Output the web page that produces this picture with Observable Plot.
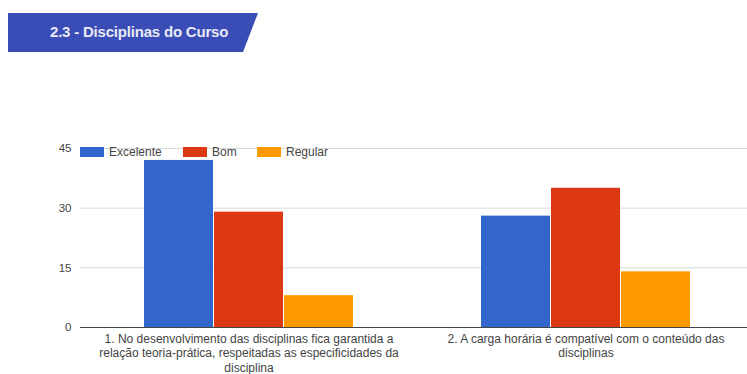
<!DOCTYPE html>
<html>
<head>
<meta charset="utf-8">
<script src="https://cdn.jsdelivr.net/npm/d3@7"></script>
<script src="https://cdn.jsdelivr.net/npm/@observablehq/plot@0.6"></script>
<style>
  html, body { margin: 0; padding: 0; background: #fff; overflow: hidden; width: 747px; height: 374px; }
  #wrap { position: relative; width: 747px; height: 374px; overflow: hidden; }
  #banner { position: absolute; left: 8px; top: 13px; width: 250px; height: 39px; background: #3a4cb5;
    clip-path: polygon(0 0, 100% 0, 94% 100%, 0 100%); }
  #banner span { position: absolute; left: 42px; top: 10px; font: bold 15px "Liberation Sans", Arial, sans-serif; color: #e8eaf6; letter-spacing: -0.2px; }
  #chart { position: absolute; left: 0; top: 120px; width: 760px; }
  #chart svg { max-width: none !important; }
  #legend { position: absolute; left: 80px; top: 147px; font: 12px "Liberation Sans", Arial, sans-serif; color: #444; }
  #legend .item { position: absolute; top: 0; white-space: nowrap; }
  #legend .sw { position: absolute; top: 0; width: 24px; height: 10px; }
  #legend .lb { position: absolute; left: 29px; top: -2px; }
</style>
</head>
<body>
<div id="wrap">
  <div id="banner"><span>2.3 - Disciplinas do Curso</span></div>
  <div id="chart"></div>
  <div id="legend"></div>
</div>
<script>
const questions = [
  "1. No desenvolvimento das disciplinas fica garantida a\nrelação teoria-prática, respeitadas as especificidades da\ndisciplina",
  "2. A carga horária é compatível com o conteúdo das\ndisciplinas"
];
const series = ["Excelente", "Bom", "Regular"];
const colors = ["#3366cc", "#dc3912", "#ff9900"];
const excelente = [42, 28];
const bom = [29, 35];
const regular = [8, 14];
const yTicks = [0, 15, 30, 45];

const values = [excelente, bom, regular];
const data = [];
questions.forEach((q, qi) => {
  series.forEach((s, si) => data.push({question: q, series: s, value: values[si][qi]}));
});

const chart = Plot.plot({
  width: 754,
  height: 254,
  marginTop: 28,
  marginBottom: 47,
  marginLeft: 80,
  marginRight: 0,
  style: {fontFamily: "'Liberation Sans', Arial, sans-serif", fontSize: "12px", color: "#444", background: "transparent", overflow: "visible", maxWidth: "none"},
  fx: {domain: questions, padding: 0, round: false, label: null},
  x: {domain: series, paddingInner: 0, paddingOuter: 0.907, round: false, axis: null},
  y: {domain: [0, 45], ticks: yTicks, label: null},
  color: {domain: series, range: colors},
  marks: [
    Plot.gridY(yTicks, {stroke: "#d9d9d9", strokeOpacity: 1}),
    Plot.axisY(yTicks, {tickSize: 0, tickPadding: 9, fontSize: 11.5, fill: "#444", label: null}),
    Plot.barY(data, {fx: "question", x: "series", y: "value", fill: "series", insetLeft: 0.5, insetRight: 0.5}),
    Plot.ruleY([0], {stroke: "#444", strokeWidth: 1}),
    Plot.axisFx({anchor: "bottom", tickSize: 0, tickPadding: 5, lineHeight: 1.2, fontSize: 12, fill: "#444", label: null})
  ]
});
document.getElementById("chart").appendChild(chart);

const legend = document.getElementById("legend");
const lx = [0, 103, 177];
series.forEach((s, i) => {
  const it = document.createElement("div");
  it.className = "item";
  it.style.left = lx[i] + "px";
  it.innerHTML = `<div class="sw" style="background:${colors[i]}"></div><div class="lb">${s}</div>`;
  legend.appendChild(it);
});
</script>
</body>
</html>
